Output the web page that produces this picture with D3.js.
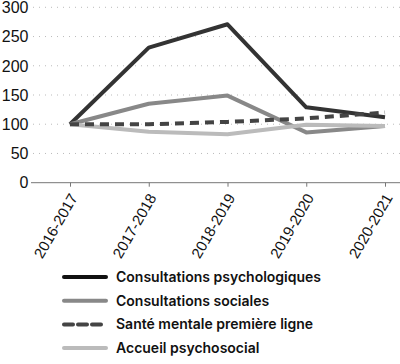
<!DOCTYPE html>
<html><head><meta charset="utf-8">
<script src="https://cdn.jsdelivr.net/npm/d3@7"></script>
<style>body{margin:0;background:#fff}svg{display:block;font-family:Inter,"Noto Sans",sans-serif}</style>
</head><body><svg id="c" width="400" height="364"></svg>
<script>
const categories = ["2016-2017","2017-2018","2018-2019","2019-2020","2020-2021"];
const psycho = [100, 231, 271, 129, 112];
const sociales = [100, 135, 149, 86, 97];
const sante = [100, 100, 104, 110, 120];
const accueil = [100, 87, 83, 99, 97];
const yTicks = [0, 50, 100, 150, 200, 250, 300];
const seriesNames = ["Consultations psychologiques","Consultations sociales","Santé mentale première ligne","Accueil psychosocial"];

const svg = d3.select("#c");
const x = d3.scalePoint().domain(categories).range([70, 385]);
const y = d3.scaleLinear().domain([0, 300]).range([182.7, 7.3]);

// grid
svg.append("g").selectAll("line").data(yTicks.filter(d=>d>0)).join("line")
  .attr("x1", 33).attr("x2", 400).attr("y1", d=>y(d)).attr("y2", d=>y(d))
  .attr("stroke", "#bbb").attr("stroke-width", 1).attr("stroke-dasharray", "1,5");

// y labels
svg.append("g").selectAll("text").data(yTicks).join("text")
  .attr("x", 28.5).attr("y", d=>y(d)).attr("dy", "0.36em").attr("text-anchor", "end")
  .attr("font-family", "'Liberation Sans',Arial,sans-serif")
  .attr("font-size", 16).attr("fill", "#111").text(d=>d);

// x axis
const xa = svg.append("g").attr("transform", `translate(0,${y(0)})`)
  .call(d3.axisBottom(x).tickSize(4).tickSizeOuter(0));
xa.select(".domain").remove();
xa.append("line").attr("x1", 31).attr("x2", 400).attr("stroke", "#777").attr("stroke-width", 1);
xa.selectAll(".tick line").attr("stroke", "#777");
xa.selectAll(".tick text").attr("font-size", 15).attr("fill", "#111")
  .attr("font-family", "'Liberation Sans',Arial,sans-serif")
  .attr("x", 0).attr("y", 0)
  .attr("text-anchor", "end").attr("dy", "0.36em")
  .attr("transform", "translate(3,12) rotate(-60)");

const line = d3.line().x((d,i)=>x(categories[i])).y(d=>y(d));
const styles = [
  {data: psycho, color: "#333", dash: null},
  {data: sociales, color: "#888", dash: null},
  {data: accueil, color: "#bbb", dash: null},
  {data: sante, color: "#444", dash: "9,6"}
];
styles.forEach(s => {
  svg.append("path").datum(s.data).attr("d", line).attr("fill", "none")
    .attr("stroke", s.color).attr("stroke-width", 4)
    .attr("stroke-linejoin", "round")
    .attr("stroke-dasharray", s.dash);
});

// legend
const legendStyles = [
  {color: "#111", dash: null},
  {color: "#888", dash: null},
  {color: "#444", dash: "9,5"},
  {color: "#bbb", dash: null}
];
const lg = svg.append("g");
seriesNames.forEach((n, i) => {
  const yy = 277 + i * 23.7;
  lg.append("line").attr("x1", 64).attr("x2", 106).attr("y1", yy).attr("y2", yy)
    .attr("stroke", legendStyles[i].color).attr("stroke-width", 4)
    .attr("stroke-linecap", "round").attr("stroke-dasharray", legendStyles[i].dash);
  lg.append("text").attr("x", 116).attr("y", yy).attr("dy", "0.35em")
    .attr("font-size", 14).attr("font-weight", 600).attr("fill", "#111").text(n);
});
</script></body></html>
